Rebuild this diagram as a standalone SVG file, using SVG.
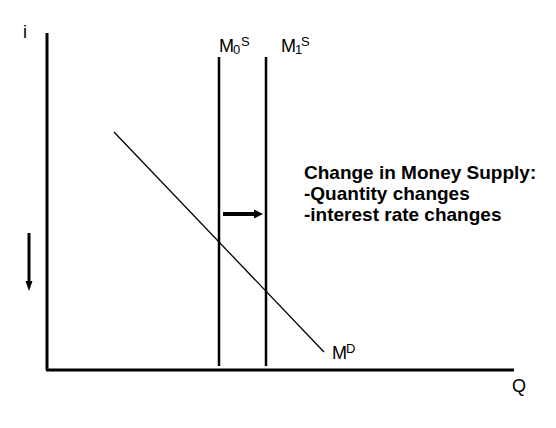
<svg xmlns="http://www.w3.org/2000/svg" width="556" height="428" viewBox="0 0 556 428">
<style>
.lbl{font-family:"Liberation Sans",Arial,sans-serif;fill:#000;font-size:18px}
.sm{font-family:"Liberation Sans",Arial,sans-serif;fill:#000;font-size:13px}
.note{font-family:"Liberation Sans",Arial,sans-serif;fill:#000;font-size:19px;font-weight:bold}
.ax{stroke:#000;stroke-width:3;fill:none}
.curve{stroke:#000;stroke-width:2.5;fill:none}
</style>
<rect width="556" height="428" fill="#fff"/>
<g id="axes">
<line class="ax" x1="47" y1="33" x2="47" y2="370"/>
<line class="ax" x1="46" y1="370" x2="514" y2="370"/>
<text class="lbl" x="23" y="38">i</text>
<text class="lbl" x="512" y="392">Q</text>
</g>
<g id="ms0">
<line class="curve" x1="219" y1="57" x2="219" y2="366"/>
<text class="lbl" x="219" y="52">M</text>
<text class="sm" x="233" y="54">0</text>
<text class="sm" x="241" y="46">S</text>
</g>
<g id="ms1">
<line class="curve" x1="266" y1="57" x2="266" y2="366"/>
<text class="lbl" x="281" y="52">M</text>
<text class="sm" x="295" y="54">1</text>
<text class="sm" x="301" y="46">S</text>
</g>
<g id="md">
<line stroke="#000" stroke-width="1.3" x1="114" y1="132" x2="324" y2="352"/>
<text class="lbl" x="332" y="359">M</text>
<text class="sm" x="346" y="353">D</text>
</g>
<g id="connectors">
<line stroke="#000" stroke-width="4" x1="223" y1="214" x2="255" y2="214"/>
<polygon points="254,209.5 263,214 254,218.5" fill="#000"/>
<line stroke="#000" stroke-width="3" x1="29" y1="233" x2="29" y2="282"/>
<polygon points="25.5,281 32.5,281 29,291" fill="#000"/>
</g>
<g id="note">
<text class="note" x="304" y="179">Change in Money Supply:</text>
<text class="note" x="304" y="200">-Quantity changes</text>
<text class="note" x="304" y="221">-interest rate changes</text>
</g>
</svg>
